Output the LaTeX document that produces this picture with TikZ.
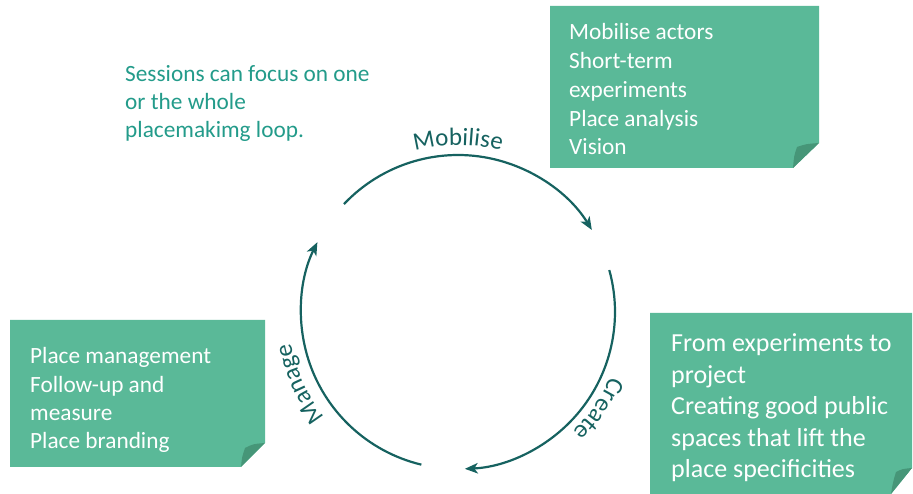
\documentclass[tikz,border=0pt]{standalone}
\usepackage{fontspec}
\setmainfont{Carlito}
\usetikzlibrary{arrows.meta,decorations.text}
\definecolor{notefill}{RGB}{90,185,152}
\definecolor{flapfill}{RGB}{70,150,120}
\definecolor{sesscol}{RGB}{35,155,138}
\definecolor{arccol}{RGB}{22,98,96}
\newcommand\lblfont{\color{arccol}\fontsize{25}{25}\selectfont}
\tikzset{
  looparc/.style={draw=arccol, line width=2.2pt, -{Stealth[length=13pt,width=10.5pt,inset=3.5pt]}},
  notetext/.style={anchor=base west, inner sep=0pt, align=left, text=white},
  looplabel/.style={decorate, decoration={text along path, text align=center, text={|\lblfont|#1}}}
}
\begin{document}
\begin{tikzpicture}[x=1pt,y=1pt]
\useasboundingbox (0,0) rectangle (913,494);
% sticky notes
\fill[notefill] (550,488) -- (819,488) -- (819,351) -- (793,326) -- (550,326) -- cycle;
\fill[flapfill] (819,351) .. controls (806,350) .. (797,347) .. controls (794,338) .. (793,326) -- cycle;
\fill[notefill] (650,181) -- (912,181) -- (912,26) -- (891,0) -- (650,0) -- cycle;
\fill[flapfill] (912,26) .. controls (902,25) .. (896,22) .. controls (893,12) .. (891,0) -- cycle;
\fill[notefill] (10,174) -- (265,174) -- (265,51) -- (241,27) -- (10,27) -- cycle;
\fill[flapfill] (265,51) .. controls (253,50) .. (245,46) .. controls (242,37) .. (241,27) -- cycle;
% note texts (anchored at the baseline of the last line)
\node[notetext, font={\fontsize{23.3}{28.7}\selectfont}] (mob) at (569,339.2)
  {Mobilise actors\\Short-term\\experiments\\Place analysis\\Vision};
\node[notetext, font={\fontsize{26}{31.5}\selectfont}] (cre) at (671,16)
  {From experiments to\\project\\Creating good public\\spaces that lift the\\place specificities};
\node[notetext, font={\fontsize{23.3}{28.3}\selectfont}] (man) at (30,45.1)
  {Place management\\Follow-up and\\measure\\Place branding};
\node[anchor=base west, inner sep=0pt, align=left, text=sesscol, font={\fontsize{23.3}{28}\selectfont}] (sess) at (125,356)
  {Sessions can focus on one\\or the whole\\placemakimg loop.};
% loop
\coordinate (C) at (458,182);
\draw[looparc] ([shift={(136.6:157)}]C) arc[start angle=136.6, end angle=31.5, radius=157];
\draw[looparc] ([shift={(15.5:157)}]C) arc[start angle=15.5, end angle=-87.5, radius=157];
\draw[looparc] ([shift={(256.5:157)}]C) arc[start angle=256.5, end angle=153.6, radius=157];
% labels
\path[looplabel=Mobilise] ([shift={(130:167)}]C) arc[start angle=130, end angle=50, radius=167];
\path[looplabel=Create] ([shift={(-4.6:166)}]C) arc[start angle=-4.6, end angle=-64.6, radius=166];
\path[looplabel=Manage] ([shift={(234.4:170)}]C) arc[start angle=234.4, end angle=174.4, radius=170];
\end{tikzpicture}
\end{document}
